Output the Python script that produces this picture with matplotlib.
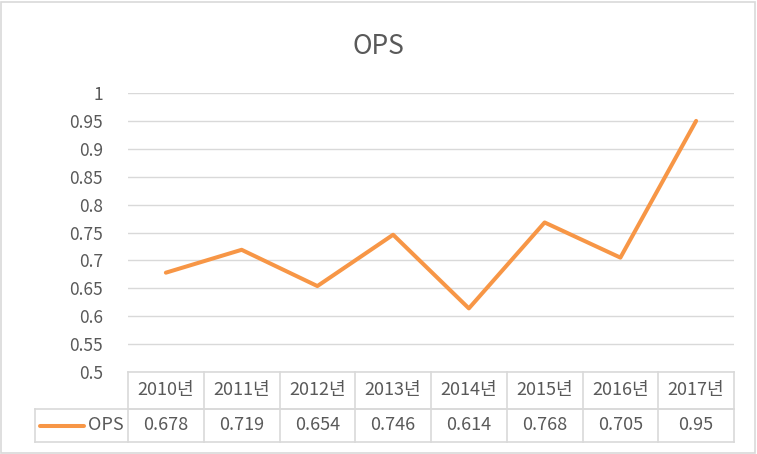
import matplotlib.pyplot as plt
import matplotlib.transforms as mtransforms
import numpy as np

plt.rcParams['font.family'] = ['Noto Sans CJK KR', 'DejaVu Sans']

years = ['2010년', '2011년', '2012년', '2013년', '2014년', '2015년', '2016년', '2017년']
ops = [0.678, 0.719, 0.654, 0.746, 0.614, 0.768, 0.705, 0.95]
value_labels = ['0.678', '0.719', '0.654', '0.746', '0.614', '0.768', '0.705', '0.95']
series_name = 'OPS'

W, H = 757, 454
line_color = '#F79646'
grid_color = '#D9D9D9'
text_color = '#595959'

fig = plt.figure(figsize=(W / 100, H / 100), dpi=100)
ax = fig.add_axes([128 / W, 1 - 372 / H, (734 - 128) / W, (372 - 93) / H])

x = np.arange(len(years)) + 0.5
ax.plot(x, ops, color=line_color, lw=2.9, solid_joinstyle='round', solid_capstyle='round', zorder=3)

ax.set_xlim(0, len(years))
ax.set_ylim(0.5, 1.0)
yticks = np.arange(0.5, 1.001, 0.05)
ax.set_yticks(yticks)
ax.set_yticklabels(['%g' % round(t, 2) for t in yticks], fontsize=12.5, color=text_color)
ax.tick_params(axis='y', length=0, pad=18)
ax.set_xticks([])
ax.grid(axis='y', color=grid_color, lw=1)
for s in ax.spines.values():
    s.set_visible(False)

fig.text(0.5, 1 - 46 / H, series_name, ha='center', va='center', fontsize=19, color=text_color)

# data table below the plot
tr = mtransforms.blended_transform_factory(ax.transData, fig.transFigure)
y_top, y_mid, y_bot = 1 - 372 / H, 1 - 409 / H, 1 - 442 / H
x_leg = -(128 - 35) / ((734 - 128) / len(years))
lk = dict(color=grid_color, lw=1.2, transform=tr, clip_on=False)
ax.plot([0, len(years)], [y_mid, y_mid], **lk)
ax.plot([x_leg, len(years)], [y_mid, y_mid], **lk)
ax.plot([x_leg, len(years)], [y_bot, y_bot], **lk)
ax.plot([x_leg, x_leg], [y_mid, y_bot], **lk)
for i in range(len(years) + 1):
    ax.plot([i, i], [y_top, y_bot], **lk)
ax.plot([0, len(years)], [y_top, y_top], **lk)
for xi, yr, v in zip(x, years, value_labels):
    ax.text(xi, (y_top + y_mid) / 2, yr, ha='center', va='center', fontsize=13,
            color=text_color, transform=tr)
    ax.text(xi, (y_mid + y_bot) / 2, v, ha='center', va='center', fontsize=13,
            color=text_color, transform=tr)
# legend key in table
ax.plot([x_leg + 0.07, x_leg + 0.65], [(y_mid + y_bot) / 2] * 2, color=line_color, lw=2.9,
        transform=tr, clip_on=False, solid_capstyle='round')
ax.text(-0.06, (y_mid + y_bot) / 2, series_name, ha='right', va='center', fontsize=13,
        color=text_color, transform=tr)

# chart border
fig.patches.append(plt.Rectangle((1 / W, 1 / H), 1 - 3 / W, 1 - 3 / H, transform=fig.transFigure,
                                 fill=False, edgecolor='#D9D9D9', lw=1.2))

fig.savefig('out.png', dpi=100, facecolor='white')
